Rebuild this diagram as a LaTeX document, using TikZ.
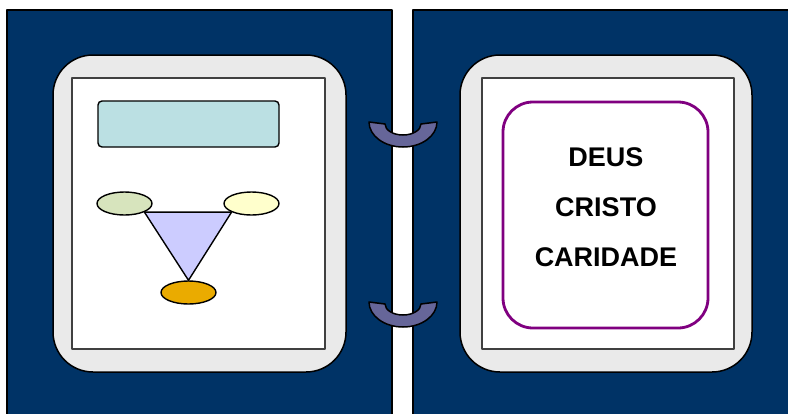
\documentclass[tikz,border=0pt]{standalone}
\usepackage{fontspec}
\setmainfont{Liberation Sans}
\usetikzlibrary{shapes.geometric}
\definecolor{navy}{RGB}{0,51,102}
\definecolor{padgray}{RGB}{234,234,234}
\definecolor{ringblue}{RGB}{102,102,153}
\definecolor{titleblue}{RGB}{187,224,227}
\definecolor{leafgreen}{RGB}{215,228,189}
\definecolor{cream}{RGB}{255,255,204}
\definecolor{gold}{RGB}{234,171,0}
\definecolor{lilac}{RGB}{204,204,255}
\definecolor{plum}{RGB}{128,0,128}

\begin{document}
\begin{tikzpicture}[x=1pt,y=-1pt,line join=round,
  panel/.style={draw=black,line width=2.2pt,fill=navy},
  pad/.style={draw=black,line width=1.5pt,fill=padgray,rounded corners=40pt},
  sheet/.style={draw=black!75,line width=1.3pt,fill=white},
  ring/.style={draw=black,line width=1.5pt,fill=ringblue},
  spot/.style={ellipse,draw=black,line width=1.4pt,minimum width=55pt,minimum height=23pt,inner sep=0pt},
  word/.style={font=\fontsize{27}{32}\selectfont\bfseries,inner sep=0pt}]
\useasboundingbox (0,0) rectangle (788,413);
\clip (0,0) rectangle (788,413);
% two panels
\draw[panel] (7,10) rectangle (392,425);
\draw[panel] (413,10) rectangle (800,425);
\draw[pad] (53,55) rectangle (346,372);
\draw[pad] (460,55) rectangle (752,372);
\draw[sheet] (72,78) rectangle (325,349);
\draw[sheet] (482,78) rectangle (734,349);
% left sheet
\draw[line width=1.4pt,fill=titleblue,rounded corners=4pt] (98,101) rectangle (279,147);
\node[spot,fill=leafgreen] (left) at (124.5,203.5) {};
\node[spot,fill=cream] (right) at (251.5,203.5) {};
\node[spot,fill=gold] (bottom) at (188.5,292.5) {};
\draw[line width=1.4pt,fill=lilac] (left.south east) -- (right.south west) -- (bottom.north) -- cycle;
% right sheet
\draw[plum,line width=2.8pt,rounded corners=30pt] (503,102) rectangle (708,328);
\node[word] (deus) at (606,157) {DEUS};
\node[word] (cristo) at (606,207) {CRISTO};
\node[word] (caridade) at (606,257) {CARIDADE};
% binder rings
\foreach \y in {122,302}{
  \draw[ring] (369,\y) arc[start angle=180,end angle=0,x radius=34,y radius=25]
    -- (421,\y+2) arc[start angle=0,end angle=180,x radius=18,y radius=11] -- cycle;
}
\end{tikzpicture}
\end{document}
